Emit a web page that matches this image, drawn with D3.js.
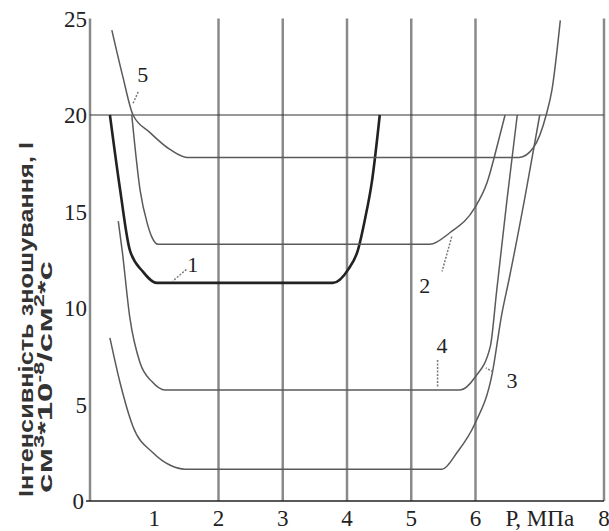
<!DOCTYPE html>
<html>
<head>
<meta charset="utf-8">
<script src="https://cdn.jsdelivr.net/npm/d3@7"></script>
<style>
  body { margin: 0; background: #fff; }
  svg { display: block; }
</style>
</head>
<body>
<svg id="chart"></svg>
<script>
// tick labels
const xTicks = [1, 2, 3, 4, 5, 6, 8];
const yTicks = [0, 5, 10, 15, 20, 25];
const xGrid = [2, 3, 4, 5, 6, 8];

// curves, [P, I]
const curve1 = [[0.31, 20], [0.47, 16.1], [0.62, 13.0], [0.82, 11.9], [1.04, 11.3],
  [3.78, 11.3], [4.02, 12.0], [4.17, 13.0], [4.28, 14.6], [4.39, 16.6], [4.51, 20]];
const curve2 = [[0.65, 20], [0.78, 16.1], [0.89, 14.4], [0.96, 13.7], [1.06, 13.3],
  [5.29, 13.3], [5.6, 13.9], [5.99, 15.2], [6.18, 16.5], [6.33, 18.3], [6.46, 20]];
const curve3 = [[0.31, 8.45], [0.47, 6.1], [0.67, 3.85], [0.98, 2.5], [1.25, 1.85], [1.48, 1.65],
  [5.48, 1.65], [5.71, 2.5], [5.99, 4.0], [6.26, 6.6], [6.41, 9.7], [6.52, 11.45], [6.77, 15.75], [7.0, 20]];
const curve4 = [[0.44, 14.5], [0.5, 13.0], [0.62, 9.5], [0.78, 7.15], [0.96, 6.2], [1.17, 5.75],
  [5.76, 5.75], [5.99, 6.4], [6.23, 8.0], [6.33, 10.9], [6.49, 15.6], [6.65, 20]];
const curve5 = [[0.34, 24.4], [0.51, 22.0], [0.67, 20.0], [0.93, 19.1], [1.25, 18.2], [1.51, 17.8],
  [6.68, 17.8], [6.9, 18.3], [7.1, 20], [7.19, 21.3], [7.32, 24.9]];

// curve numbers: text position and leader line, in data units
const curveNames = ["1", "2", "3", "4", "5"];
const labelAt = [[1.6, 11.85], [5.21, 10.8], [6.57, 5.85], [5.48, 7.67], [0.82, 21.7]];
const leaderFrom = [[1.5, 12.0], [5.63, 13.7], [6.27, 6.7], [5.41, 7.3], [0.75, 21.2]];
const leaderTo = [[1.29, 11.4], [5.48, 11.9], [6.16, 6.9], [5.41, 5.9], [0.67, 20.6]];

const width = 609;
const height = 531;

const svg = d3.select("#chart")
  .attr("width", width)
  .attr("height", height);

const x = d3.scaleLinear().domain([0, 8]).range([90, 604]);
const y = d3.scaleLinear().domain([0, 25]).range([501, 18.5]);

const serif = "'Liberation Serif', 'Times New Roman', serif";
const sans = "'Liberation Sans', Arial, sans-serif";

// vertical grid
svg.selectAll(".vgrid")
  .data(xGrid)
  .join("line")
  .attr("x1", d => x(d)).attr("x2", d => x(d))
  .attr("y1", y(25)).attr("y2", y(0))
  .attr("stroke", "#8a8a8a")
  .attr("stroke-width", 2.5);

// left axis
svg.append("line")
  .attr("x1", x(0)).attr("x2", x(0))
  .attr("y1", y(25)).attr("y2", y(0))
  .attr("stroke", "#8a8a8a")
  .attr("stroke-width", 2.5);

// line at 20
svg.append("line")
  .attr("x1", x(0)).attr("x2", x(8))
  .attr("y1", y(20)).attr("y2", y(20))
  .attr("stroke", "#333")
  .attr("stroke-width", 1.2);

// bottom axis
svg.append("line")
  .attr("x1", x(0) - 4).attr("x2", x(8))
  .attr("y1", y(0)).attr("y2", y(0))
  .attr("stroke", "#222")
  .attr("stroke-width", 1.6);

// tick labels
svg.selectAll(".ytick")
  .data(yTicks)
  .join("text")
  .attr("x", d => d === 0 ? 84 : 87)
  .attr("y", d => y(d) + 8)
  .attr("text-anchor", "end")
  .attr("font-family", serif)
  .attr("font-size", 23)
  .attr("fill", "#222")
  .text(d => d);

svg.selectAll(".xtick")
  .data(xTicks)
  .join("text")
  .attr("x", d => x(d))
  .attr("y", 526)
  .attr("text-anchor", "middle")
  .attr("font-family", serif)
  .attr("font-size", 23)
  .attr("fill", "#222")
  .text(d => d);

svg.append("text")
  .attr("x", x(7))
  .attr("y", 526)
  .attr("text-anchor", "middle")
  .attr("font-family", serif)
  .attr("font-size", 23)
  .attr("fill", "#222")
  .text("Р, МПа");

// curves
const line = d3.line()
  .x(d => x(d[0]))
  .y(d => y(d[1]))
  .curve(d3.curveMonotoneX);

const curves = [curve1, curve2, curve3, curve4, curve5];

svg.selectAll(".curve")
  .data(curves)
  .join("path")
  .attr("d", line)
  .attr("fill", "none")
  .attr("stroke", (d, i) => i === 0 ? "#222" : "#5a5a5a")
  .attr("stroke-width", (d, i) => i === 0 ? 2.6 : 1.5);

// leaders and names
svg.selectAll(".leader")
  .data(curveNames)
  .join("line")
  .attr("x1", (d, i) => x(leaderFrom[i][0]))
  .attr("y1", (d, i) => y(leaderFrom[i][1]))
  .attr("x2", (d, i) => x(leaderTo[i][0]))
  .attr("y2", (d, i) => y(leaderTo[i][1]))
  .attr("stroke", "#777")
  .attr("stroke-width", 1.5)
  .attr("stroke-dasharray", "2,1.5");

svg.selectAll(".cname")
  .data(curveNames)
  .join("text")
  .attr("x", (d, i) => x(labelAt[i][0]))
  .attr("y", (d, i) => y(labelAt[i][1]))
  .attr("text-anchor", "middle")
  .attr("font-family", serif)
  .attr("font-size", 22)
  .attr("fill", "#222")
  .text(d => d);

// y title
svg.append("text")
  .attr("transform", "translate(33,497) rotate(-90)")
  .attr("font-family", sans)
  .attr("font-weight", "bold")
  .attr("font-size", 21)
  .attr("fill", "#333")
  .attr("textLength", 355)
  .attr("lengthAdjust", "spacingAndGlyphs")
  .text("Інтенсивність зношування, I");

const t2 = svg.append("text")
  .attr("transform", "translate(52,493) rotate(-90)")
  .attr("font-family", sans)
  .attr("font-weight", "bold")
  .attr("font-size", 21)
  .attr("fill", "#333")
  .attr("textLength", 232)
  .attr("lengthAdjust", "spacingAndGlyphs");
t2.append("tspan").text("см");
t2.append("tspan").attr("dy", -8).attr("font-size", 14).text("3");
t2.append("tspan").attr("dy", 8).text("*10");
t2.append("tspan").attr("dy", -8).attr("font-size", 14).text("-8");
t2.append("tspan").attr("dy", 8).text("/см");
t2.append("tspan").attr("dy", -8).attr("font-size", 14).text("2");
t2.append("tspan").attr("dy", 8).text("*с");
</script>
</body>
</html>
